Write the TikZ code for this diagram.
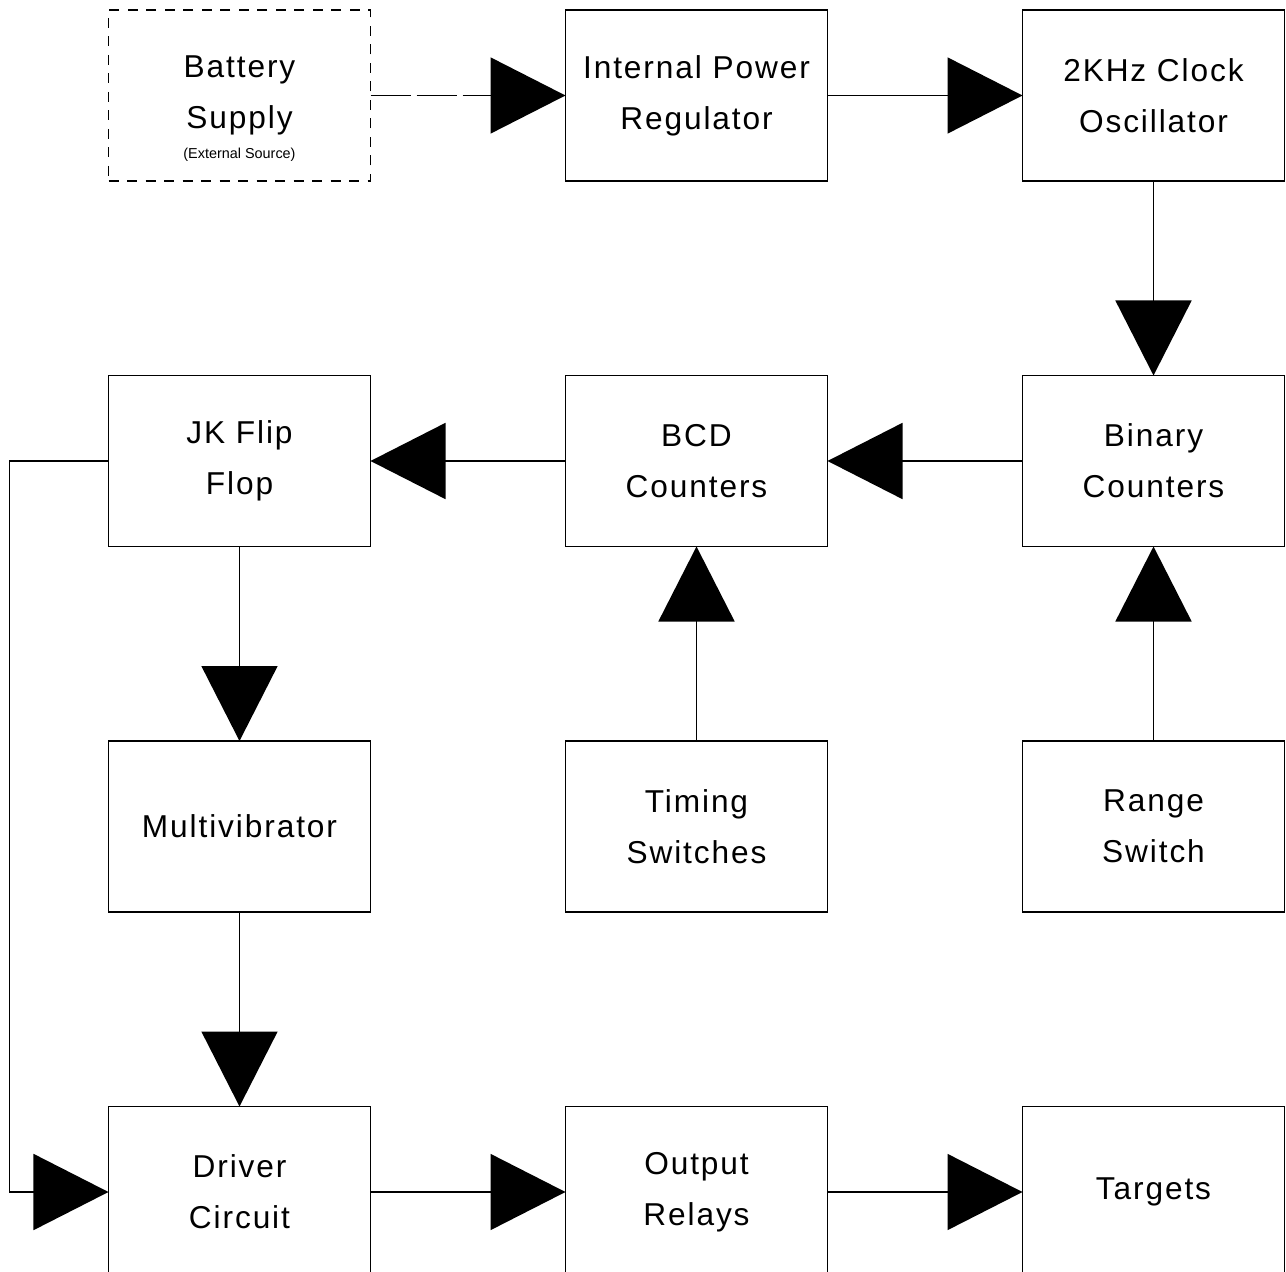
\documentclass[tikz,border=0pt]{standalone}
\usepackage{fontspec}
\setmainfont{Liberation Sans}[LetterSpace=6.0]
\newfontfamily\notefont{Liberation Sans}
\usetikzlibrary{positioning, arrows.meta}
\tikzstyle{block} = [rectangle, 
minimum width=5.24cm, 
minimum height=3.42cm,
inner sep=0pt,
outer sep=0pt,
text centered, 
align=center,
draw=black, 
line width=0.9pt,
font=\fontsize{18}{29}\selectfont]
\tikzstyle{extblock} = [block, dash pattern=on 0.2cm off 0.17cm]
\tikzstyle{arrow} = [line width=0.9pt,-{Triangle[length=1.5cm,width=1.52cm]}]

\begin{document}
\begin{tikzpicture}[node distance=3.89cm and 3.9cm]
        \useasboundingbox (0,0) rectangle (25.72,-25.44);
        \node (battery) [extblock] at (4.79,-1.91) {Battery\\Supply};
        \node (battnote) [below=1.19cm of battery.center, anchor=center, font=\notefont\fontsize{8.2}{10}\selectfont] {(External Source)};
        \node (regulator) [block, right=of battery] {Internal Power\\Regulator};
        \node (clock) [block, right=of regulator] {2KHz Clock\\Oscillator};
        \node (binary) [block, below=of clock] {Binary\\Counters};
        \node (bcd) [block, left=of binary] {BCD\\Counters};
        \node (jk) [block, left=of bcd] {JK Flip\\Flop};
        \node (multi) [block, below=of jk] {Multivibrator};
        \node (timing) [block, right=of multi] {Timing\\Switches};
        \node (range) [block, right=of timing] {Range\\Switch};
        \node (driver) [block, below=of multi] {Driver\\Circuit};
        \node (relays) [block, right=of driver] {Output\\Relays};
        \node (targets) [block, right=of relays] {Targets};
        \draw [arrow, dash pattern=on 0.8cm off 0.12cm] (battery) -- (regulator);
        \draw [arrow] (regulator) -- (clock);
        \draw [arrow] (clock) -- (binary);
        \draw [arrow] (binary) -- (bcd);
        \draw [arrow] (bcd) -- (jk);
        \draw [arrow] (jk) -- (multi);
        \draw [arrow] (timing) -- (bcd);
        \draw [arrow] (range) -- (binary);
        \draw [arrow] (multi) -- (driver);
        \draw [arrow] (jk.west) -- ++(-1.98,0) |- (driver.west);
        \draw [arrow] (driver) -- (relays);
        \draw [arrow] (relays) -- (targets);
    \end{tikzpicture}
\end{document}
